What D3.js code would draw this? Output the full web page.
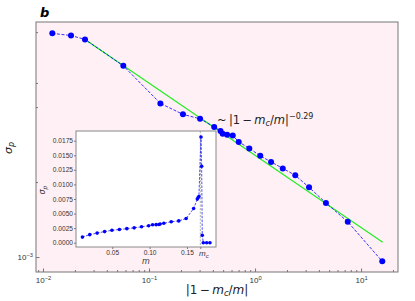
<!DOCTYPE html>
<html>
<head>
<meta charset="utf-8" />
<style>
    body { margin: 0; background: #fff; }
    svg { font-family: "DejaVu Sans", sans-serif; }
    .axis text { fill: #333; }
    .axis line { stroke: #555; stroke-width: 0.8; }
    .axis path { display: none; }
</style>
<script src="https://d3js.org/d3.v7.min.js"></script>
</head>
<body>
<script>

// main panel: sigma_p vs |1 - m_c/m|
let mainX = [0.01225, 0.01837, 0.0249, 0.0572, 0.128, 0.209, 0.303, 0.412, 0.4725, 0.495, 0.545,
             0.616, 0.702, 0.883, 1.12, 1.416, 1.825, 2.395, 3.23, 4.66, 7.49, 15.85];
let mainY = [7.91e-3, 7.75e-3, 7.48e-3, 5.86e-3, 4.14e-3, 3.74e-3, 3.59e-3, 3.33e-3, 3.21e-3, 3.13e-3, 3.10e-3,
             3.08e-3, 2.90e-3, 2.73e-3, 2.55e-3, 2.41e-3, 2.27e-3, 2.13e-3, 1.905e-3, 1.65e-3, 1.385e-3, 9.61e-4];

// power-law fit, slope -0.29 (end points)
let fitX = [0.0249, 16.0];
let fitY = [7.48e-3, 1.148e-3];

// inset: sigma_p vs m
let insetM = [0.0100, 0.0198, 0.0297, 0.0397, 0.0495, 0.0595, 0.0695, 0.0793, 0.0892, 0.0987, 0.1040,
              0.1087, 0.1124, 0.1141, 0.1190, 0.1289, 0.1390, 0.1489, 0.1589, 0.1639, 0.1650, 0.1660,
              0.1688, 0.1697, 0.1705, 0.1719, 0.1764, 0.1808];
let insetS = [9.61e-4, 1.385e-3, 1.65e-3, 1.905e-3, 2.13e-3, 2.27e-3, 2.41e-3, 2.55e-3, 2.73e-3, 2.90e-3, 3.08e-3,
              3.10e-3, 3.13e-3, 3.21e-3, 3.33e-3, 3.59e-3, 3.74e-3, 4.14e-3, 5.86e-3, 7.48e-3, 7.75e-3, 7.91e-3,
              0.01814, 0.01311, 0.00127, 0, 0, 0];
let mc = 0.1679;

// ticks
let xMajor = [1e-2, 1e-1, 1e0, 1e1];
let xMinor = [];
[-3, -2, -1, 0, 1].forEach(e => { for (let k = 2; k <= 9; k++) xMinor.push(k * Math.pow(10, e)); });
let yMajor = [1e-3];
let yMinor = [2e-3, 4e-3, 5e-3, 8e-3];
let insetYTicks = [0, 0.0025, 0.005, 0.0075, 0.01, 0.0125, 0.015, 0.0175];
let insetXTicks = [0.05, 0.10, 0.15];

let W = 415, H = 301;
let margin = { top: 22, right: 17, bottom: 29, left: 36 };
let w = W - margin.left - margin.right,
    h = H - margin.top - margin.bottom;

let svg = d3.select("body").append("svg")
    .attr("width", W)
    .attr("height", H);

let g = svg.append("g")
    .attr("transform", "translate(" + margin.left + "," + margin.top + ")");

let xScale = d3.scaleLog().domain([0.00859, 22.3]).range([0, w]);
let yScale = d3.scaleLog().domain([8.71e-4, 8.785e-3]).range([h, 0]);

g.append("rect")
    .attr("width", w).attr("height", h)
    .attr("fill", "#fff0f5");

let supLabel = function(sel) {
    sel.each(function(d) {
        let e = Math.round(Math.log10(d));
        let t = d3.select(this).text(null);
        t.append("tspan").text("10");
        t.append("tspan").attr("dy", "-0.55em").attr("font-size", "0.72em")
            .text(e < 0 ? "\u2212" + (-e) : "" + e);
    });
};

// x axis
let xAx = g.append("g").attr("class", "axis")
    .attr("transform", "translate(0," + h + ")")
    .call(d3.axisBottom(xScale).tickValues(xMajor).tickSizeInner(-3.5).tickSizeOuter(0).tickPadding(5));
xAx.selectAll("text").attr("font-size", 8).call(supLabel);
g.append("g").attr("class", "axis")
    .attr("transform", "translate(0," + h + ")")
    .call(d3.axisBottom(xScale).tickValues(xMinor.filter(v => v > 0.00859 && v < 22.3))
        .tickSizeInner(-2).tickSizeOuter(0).tickFormat(""));

// y axis
let yAx = g.append("g").attr("class", "axis")
    .call(d3.axisLeft(yScale).tickValues(yMajor).tickSizeInner(-3.5).tickSizeOuter(0).tickPadding(3));
yAx.selectAll("text").attr("font-size", 8).call(supLabel);
g.append("g").attr("class", "axis")
    .call(d3.axisLeft(yScale).tickValues(yMinor).tickSizeInner(-2).tickSizeOuter(0).tickFormat(""));

g.append("rect")
    .attr("width", w).attr("height", h)
    .attr("fill", "none").attr("stroke", "#777").attr("stroke-width", 1);

// fit line
g.append("line")
    .attr("x1", xScale(fitX[0])).attr("y1", yScale(fitY[0]))
    .attr("x2", xScale(fitX[1])).attr("y2", yScale(fitY[1]))
    .attr("stroke", "#22ee22").attr("stroke-width", 1.2);

// data
let mainData = mainX.map((v, i) => ({ x: v, y: mainY[i] }));
g.append("path")
    .datum(mainData)
    .attr("fill", "none")
    .attr("stroke", "#0000ff")
    .attr("stroke-width", 0.8)
    .attr("stroke-dasharray", "3,1.6")
    .attr("d", d3.line().x(d => xScale(d.x)).y(d => yScale(d.y)));
g.selectAll("circle.main")
    .data(mainData)
    .enter().append("circle")
    .attr("class", "main")
    .attr("cx", d => xScale(d.x))
    .attr("cy", d => yScale(d.y))
    .attr("r", 3)
    .attr("fill", "#0000ff");

// annotation
let ann = svg.append("text").attr("x", 217).attr("y", 124).attr("font-size", 11.5).attr("fill", "#222");
ann.append("tspan").text("~\u2009|1\u2009\u2212\u2009");
ann.append("tspan").attr("font-style", "italic").text("m");
ann.append("tspan").attr("font-style", "italic").attr("font-size", 8).attr("dy", 2).text("c");
ann.append("tspan").attr("dy", -2).text("/");
ann.append("tspan").attr("font-style", "italic").text("m");
ann.append("tspan").text("|");
ann.append("tspan").attr("font-size", 8).attr("dy", -5).text("\u22120.29");

// panel letter and axis labels
svg.append("text").attr("x", 40).attr("y", 17)
    .attr("font-size", 13).attr("font-weight", "bold").attr("font-style", "italic")
    .text("b");

let xl = svg.append("text").attr("x", 217).attr("y", 294)
    .attr("font-size", 12).attr("text-anchor", "middle").attr("fill", "#222");
xl.append("tspan").text("|1\u2009\u2212\u2009");
xl.append("tspan").attr("font-style", "italic").text("m");
xl.append("tspan").attr("font-style", "italic").attr("font-size", 8.5).attr("dy", 2).text("c");
xl.append("tspan").attr("dy", -2).text("/");
xl.append("tspan").attr("font-style", "italic").text("m");
xl.append("tspan").text("|");

let yl = svg.append("text")
    .attr("transform", "translate(12,148) rotate(-90)")
    .attr("font-size", 11).attr("text-anchor", "middle").attr("fill", "#222");
yl.append("tspan").attr("font-style", "italic").text("\u03c3");
yl.append("tspan").attr("font-style", "italic").attr("font-size", 8).attr("dy", 2).text("p");

// ---- inset ----
let ins = { left: 76, top: 131, right: 216, bottom: 247 };
let iw = ins.right - ins.left, ih = ins.bottom - ins.top;
let gi = svg.append("g").attr("transform", "translate(" + ins.left + "," + ins.top + ")");

let ix = d3.scaleLinear().domain([0.00139, 0.1889]).range([0, iw]);
let iy = d3.scaleLinear().domain([-0.000738, 0.019166]).range([ih, 0]);

gi.append("rect").attr("width", iw).attr("height", ih).attr("fill", "#fff");

let iyAx = gi.append("g").attr("class", "axis")
    .call(d3.axisLeft(iy).tickValues(insetYTicks).tickFormat(d3.format(".4f"))
        .tickSizeInner(2).tickSizeOuter(0).tickPadding(1));
iyAx.selectAll("text").attr("font-size", 6.6);

let ixAx = gi.append("g").attr("class", "axis")
    .attr("transform", "translate(0," + ih + ")")
    .call(d3.axisBottom(ix).tickValues(insetXTicks.concat([mc])).tickFormat(d3.format(".2f"))
        .tickSizeInner(2).tickSizeOuter(0).tickPadding(1.5));
ixAx.selectAll("text").attr("font-size", 6.6);
ixAx.selectAll("text").filter(d => d === mc).each(function() {
    let t = d3.select(this).text(null).attr("fill", "#ff2020").attr("font-size", 8).attr("dx", 3);
    t.append("tspan").attr("font-style", "italic").text("m");
    t.append("tspan").attr("font-style", "italic").attr("font-size", 6).attr("dy", 2).text("c");
});

gi.append("rect").attr("width", iw).attr("height", ih)
    .attr("fill", "none").attr("stroke", "#888").attr("stroke-width", 1);

// m_c marker
gi.append("line")
    .attr("x1", ix(mc)).attr("x2", ix(mc))
    .attr("y1", 0).attr("y2", ih)
    .attr("stroke", "#999").attr("stroke-width", 0.8).attr("stroke-dasharray", "2,1.5");

let insetData = insetM.map((v, i) => ({ m: v, s: insetS[i] }));
gi.append("path")
    .datum(insetData)
    .attr("fill", "none")
    .attr("stroke", "#0000ff")
    .attr("stroke-width", 0.7)
    .attr("stroke-dasharray", "2.5,1.3")
    .attr("d", d3.line().x(d => ix(d.m)).y(d => iy(d.s)));
gi.selectAll("circle")
    .data(insetData)
    .enter().append("circle")
    .attr("cx", d => ix(d.m))
    .attr("cy", d => iy(d.s))
    .attr("r", 1.8)
    .attr("fill", "#0000ff");

svg.append("text").attr("x", 146).attr("y", 264)
    .attr("font-size", 8).attr("font-style", "italic").attr("text-anchor", "middle").attr("fill", "#333")
    .text("m");
let iyl = svg.append("text")
    .attr("transform", "translate(45,190) rotate(-90)")
    .attr("font-size", 8).attr("text-anchor", "middle").attr("fill", "#333");
iyl.append("tspan").attr("font-style", "italic").text("\u03c3");
iyl.append("tspan").attr("font-style", "italic").attr("font-size", 6).attr("dy", 1.5).text("p");

</script>
</body>
</html>
